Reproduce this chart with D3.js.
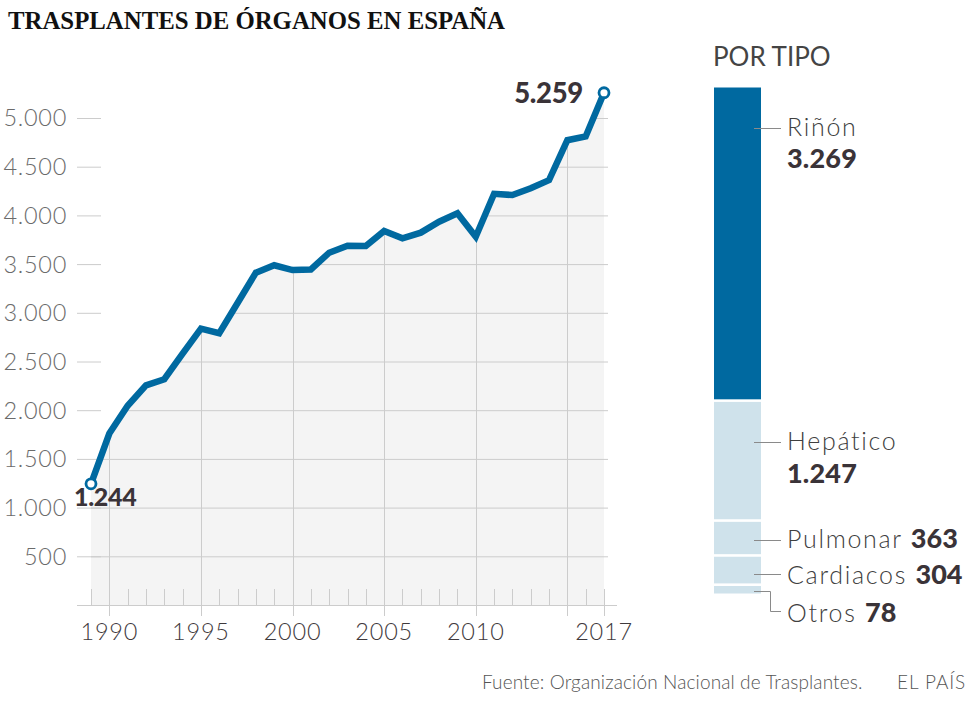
<!DOCTYPE html>
<html>
<head>
<meta charset="utf-8">
<script src="https://cdn.jsdelivr.net/npm/d3@7"></script>
<style>
  html, body { margin: 0; padding: 0; background: #fff; }
  svg { display: block; }
  text { font-family: Lato, "Open Sans", sans-serif; }
</style>
</head>
<body>
<svg id="chart" width="980" height="709"></svg>
<script>
// ---- Data ----
const years = [1989,1990,1991,1992,1993,1994,1995,1996,1997,1998,1999,2000,2001,2002,2003,2004,2005,2006,2007,2008,2009,2010,2011,2012,2013,2014,2015,2016,2017];
const totals = [1244,1760,2045,2255,2318,2582,2838,2790,3100,3412,3488,3439,3445,3617,3689,3685,3840,3765,3823,3935,4021,3781,4222,4209,4278,4362,4772,4810,5259];
const yTicks = [500,1000,1500,2000,2500,3000,3500,4000,4500,5000];
const xTickLabels = [1990,1995,2000,2005,2010,2017];
const xGridYears = [1990,1995,2000,2005,2010,2015];
const organTypes = ["Riñón","Hepático","Pulmonar","Cardiacos","Otros"];
const organValues = [3269,1247,363,304,78];
const title = "TRASPLANTES DE ÓRGANOS EN ESPAÑA";
const subTitle = "POR TIPO";
const source = "Fuente: Organización Nacional de Trasplantes.";
const brand = "EL PAÍS";

// ---- Helpers ----
const fmt = v => d3.format(",")(v).replace(/,/g, ".");
const BLUE = "#0069a0", LIGHT = "#cfe2eb", GRID = "#cccccc", AREA = "#f4f4f4";

const svg = d3.select("#chart");

// Title
svg.append("text").attr("x", 8).attr("y", 28.5)
  .style("font-family", "'Liberation Serif', 'Times New Roman', serif")
  .attr("font-weight", "bold").attr("font-size", 25).attr("fill", "#111")
  .attr("textLength", 497).attr("lengthAdjust", "spacingAndGlyphs")
  .text(title);

// ---- Line chart ----
const x = d3.scaleLinear().domain([1989, 2017]).range([91, 604]);
const y = d3.scaleLinear().domain([0, 5000]).range([605, 118]);
const data = years.map((yr, i) => ({ yr, v: totals[i] }));

const area = d3.area().x(d => x(d.yr)).y0(y(0)).y1(d => y(d.v));
const line = d3.line().x(d => x(d.yr)).y(d => y(d.v));

const defs = svg.append("defs");
const clip = defs.append("clipPath").attr("id", "areaClip");
clip.append("path").attr("d", area(data));
clip.append("rect").attr("x", x(2017) - 1).attr("y", y(5259)).attr("width", 5).attr("height", y(0) - y(5259));

svg.append("path").attr("d", area(data)).attr("fill", AREA);

const grid = svg.append("g").attr("clip-path", "url(#areaClip)");
grid.selectAll("line.h").data(yTicks).join("line")
  .attr("x1", 77).attr("x2", 608)
  .attr("y1", d => y(d) + 0.5).attr("y2", d => y(d) + 0.5)
  .attr("stroke", GRID).attr("stroke-width", 1);
grid.selectAll("line.v").data(xGridYears).join("line")
  .attr("x1", d => Math.round(x(d)) + 0.5).attr("x2", d => Math.round(x(d)) + 0.5)
  .attr("y1", 100).attr("y2", y(0))
  .attr("stroke", GRID).attr("stroke-width", 1);

// left tick stubs of the y grid
svg.append("g").selectAll("line").data(yTicks).join("line")
  .attr("x1", 77).attr("x2", 101)
  .attr("y1", d => y(d) + 0.5).attr("y2", d => y(d) + 0.5)
  .attr("stroke", GRID).attr("stroke-width", 1);

// y labels
svg.append("g").selectAll("text").data(yTicks).join("text")
  .attr("x", 67).attr("y", d => y(d)).attr("dy", "0.36em")
  .attr("text-anchor", "end").attr("font-size", 23.5).attr("font-weight", 300)
  .attr("letter-spacing", 0.7)
  .attr("fill", "#6b6b6b").text(d => fmt(d));

// x axis baseline + ticks
svg.append("line").attr("x1", 77).attr("x2", 617).attr("y1", 605.5).attr("y2", 605.5)
  .attr("stroke", GRID).attr("stroke-width", 1);
svg.append("g").selectAll("line").data(years).join("line")
  .attr("x1", d => Math.round(x(d)) + 0.5).attr("x2", d => Math.round(x(d)) + 0.5)
  .attr("y1", 589).attr("y2", 605)
  .attr("stroke", GRID).attr("stroke-width", 1);
svg.append("g").selectAll("line").data(xGridYears.concat([2017])).join("line")
  .attr("x1", d => Math.round(x(d)) + 0.5).attr("x2", d => Math.round(x(d)) + 0.5)
  .attr("y1", 605).attr("y2", 616)
  .attr("stroke", GRID).attr("stroke-width", 1);
svg.append("g").selectAll("text").data(xTickLabels).join("text")
  .attr("x", d => x(d)).attr("y", 639.5)
  .attr("text-anchor", "middle").attr("font-size", 23.5).attr("font-weight", 300)
  .attr("letter-spacing", 0.8)
  .attr("fill", "#3f3a3d").text(d => d);

// line
svg.append("path").attr("d", line(data)).attr("fill", "none")
  .attr("stroke", BLUE).attr("stroke-width", 6.5).attr("stroke-linejoin", "miter").attr("stroke-miterlimit", 3);

// end points
const ends = [data[0], data[data.length - 1]];
svg.append("g").selectAll("circle").data(ends).join("circle")
  .attr("cx", d => x(d.yr)).attr("cy", d => y(d.v)).attr("r", 5)
  .attr("fill", "#fff").attr("stroke", BLUE).attr("stroke-width", 2.8);

// annotations
svg.append("text").attr("x", 74).attr("y", 506)
  .attr("font-size", 25).attr("font-weight", 900).attr("fill", "#3a3338")
  .attr("letter-spacing", -0.3).text(fmt(totals[0]));
svg.append("text").attr("x", 583).attr("y", 102.5).attr("text-anchor", "end")
  .attr("font-size", 27.5).attr("font-weight", 900).attr("fill", "#3a3338")
  .attr("letter-spacing", -0.3).text(fmt(totals[totals.length - 1]));

// ---- Stacked bar ----
svg.append("text").attr("x", 713).attr("y", 66).attr("font-size", 26)
  .attr("font-weight", 400).attr("fill", "#444").text(subTitle);

const stackRow = {};
organTypes.forEach((t, i) => stackRow[t] = organValues[i]);
const stackKeys = organTypes.slice().reverse(); // bottom to top
const series = d3.stack().keys(stackKeys)([stackRow]);
const total = d3.sum(organValues);
const yb = d3.scaleLinear().domain([0, total]).range([593.5, 87.5]);
const GAP = 2.6;
svg.append("g").selectAll("rect").data(series).join("rect")
  .attr("x", 714).attr("width", 47)
  .attr("y", s => yb(s[0][1]))
  .attr("height", (s, i) => Math.max(0, yb(s[0][0]) - yb(s[0][1]) - (i > 0 ? GAP : 0)))
  .attr("fill", s => s.key === "Riñón" ? BLUE : LIGHT);

// labels with leaders
const labelY = { "Riñón": 128.5, "Hepático": 442.5, "Pulmonar": 540.5, "Cardiacos": 574.5 };
const leaders = svg.append("g").attr("stroke", "#8a8a8a").attr("stroke-width", 1).attr("fill", "none");
Object.keys(labelY).forEach(k => {
  leaders.append("line").attr("x1", 754).attr("x2", 781).attr("y1", labelY[k]).attr("y2", labelY[k]);
});
leaders.append("path").attr("d", "M754,591.5H770.5V611.5H781");

const LBL = { size: 25, fill: "#404040", ls: 1.7 };
const NUM = { size: 27, fill: "#3a3338" };
function label(xp, yp, name, val, inline) {
  const t = svg.append("text").attr("x", xp).attr("y", yp).attr("font-size", LBL.size).attr("fill", LBL.fill);
  t.append("tspan").attr("font-weight", 300).attr("letter-spacing", LBL.ls).text(name + (inline ? " " : ""));
  if (inline) t.append("tspan").attr("font-weight", 900).attr("font-size", NUM.size).attr("fill", NUM.fill)
    .attr("letter-spacing", 0).text(fmt(val));
}
function numLine(xp, yp, val) {
  svg.append("text").attr("x", xp).attr("y", yp).attr("font-size", NUM.size)
    .attr("font-weight", 900).attr("fill", NUM.fill).attr("letter-spacing", 0.2).text(fmt(val));
}
label(787, 135.5, organTypes[0], organValues[0], false);
numLine(787, 168, organValues[0]);
label(787, 449.5, organTypes[1], organValues[1], false);
numLine(787, 482.5, organValues[1]);
label(787, 547.5, organTypes[2], organValues[2], true);
label(787, 583.5, organTypes[3], organValues[3], true);
label(787, 621.5, organTypes[4], organValues[4], true);

// footer
svg.append("text").attr("x", 482).attr("y", 688.5).attr("font-size", 19)
  .attr("font-weight", 300).attr("letter-spacing", 0.12).attr("fill", "#555").text(source);
svg.append("text").attr("x", 897).attr("y", 688.5).attr("font-size", 19)
  .attr("font-weight", 300).attr("letter-spacing", 0.9).attr("fill", "#555").text(brand);
</script>
</body>
</html>
